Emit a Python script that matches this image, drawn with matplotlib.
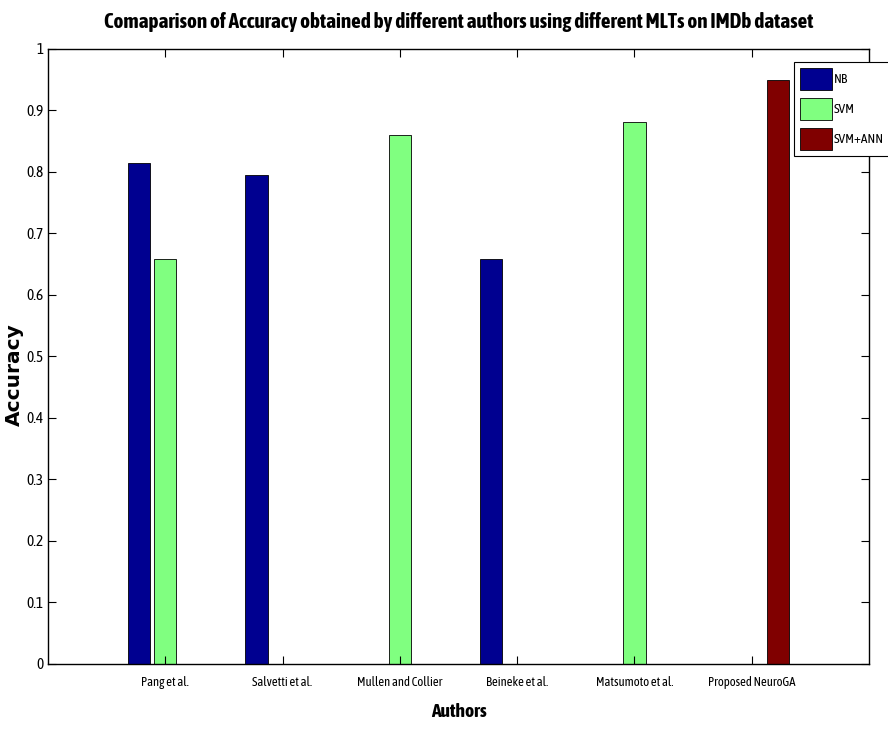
import numpy as np
import matplotlib
matplotlib.use("Agg")
import matplotlib.pyplot as plt
from matplotlib import font_manager

# narrow font (MATLAB-style Helvetica narrow look), preferably one with a bold face
narrow_fonts = {}
for f in font_manager.fontManager.ttflist:
    if "Narrow" in f.name or "Condensed" in f.name:
        w = f.weight if isinstance(f.weight, int) else (700 if "bold" in str(f.weight) else 400)
        narrow_fonts.setdefault(f.name, set()).add(w)
with_bold = [n for n, ws in narrow_fonts.items() if max(ws) >= 700]
if with_bold:
    narrow = sorted(with_bold)[0]
elif narrow_fonts:
    narrow = sorted(narrow_fonts)[0]
else:
    narrow = "Liberation Sans"
matplotlib.rcParams['font.family'] = [narrow, 'DejaVu Sans']

authors = ["Pang et al.", "Salvetti et al.", "Mullen and Collier",
           "Beineke et al.", "Matsumoto et al.", "Proposed NeuroGA"]
series = ["NB", "SVM", "SVM+ANN"]
nb = [0.815, 0.795, 0.0, 0.659, 0.0, 0.0]
svm = [0.659, 0.0, 0.860, 0.0, 0.882, 0.0]
svm_ann = [0.0, 0.0, 0.0, 0.0, 0.0, 0.950]
colors = ["#000090", "#80FF80", "#800000"]

fig = plt.figure(figsize=(8.88, 7.31), dpi=100)
ax = fig.add_axes([0.054, 0.0917, 0.9246, 0.8413])

x = np.arange(1, len(authors) + 1)
width = 0.19
offset = 0.222
for i, (vals, name, c) in enumerate(zip([nb, svm, svm_ann], series, colors)):
    ax.bar(x + (i - 1) * offset, vals, width, color=c, edgecolor="black",
           linewidth=0.6, label=name)

ax.set_xlim(0, 7)
ax.set_ylim(0, 1)
ax.set_xticks(x)
ax.set_xticklabels(authors, fontsize=9.2)
ax.set_yticks(np.arange(0, 1.01, 0.1))
ax.set_yticklabels(["0", "0.1", "0.2", "0.3", "0.4", "0.5", "0.6", "0.7", "0.8", "0.9", "1"],
                   fontsize=11)
ax.tick_params(axis="both", direction="in", top=True, right=True, width=0.8)
ax.tick_params(axis="y", length=6, pad=3)
ax.tick_params(axis="x", length=6, pad=9)
for s in ax.spines.values():
    s.set_linewidth(1.0)

ax.set_xlabel("Authors", fontsize=14, fontweight="bold", labelpad=10)
ax.set_ylabel("Accuracy", fontsize=14.5, fontweight="bold", family="DejaVu Sans")
ax.yaxis.set_label_coords(-0.029, 0.47)
ax.set_title("Comaparison of Accuracy obtained by different authors using different MLTs on IMDb dataset",
             fontsize=15.2, fontweight="bold", pad=15)

leg = ax.legend(loc="upper left", bbox_to_anchor=(0.9086, 0.979), fontsize=9.5,
                frameon=True, fancybox=False, edgecolor="black", framealpha=1,
                borderaxespad=0, handlelength=2.45, handleheight=2.2,
                handletextpad=0.15, borderpad=0.45, labelspacing=0.6)
leg.get_frame().set_linewidth(0.8)
leg.set_clip_on(False)

fig.savefig("out.png", dpi=100)
